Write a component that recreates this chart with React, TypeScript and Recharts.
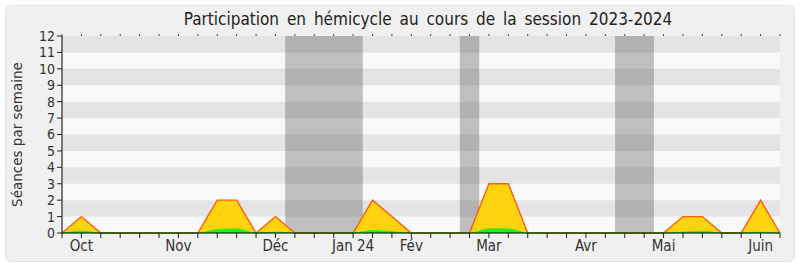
import React from "react";
import {
  ComposedChart, Area, XAxis, YAxis, ReferenceArea,
} from "recharts";

// one point per week, from late September 2023 to June 2024
const weeks = [
  0, 1, 2, 3, 4, 5, 6, 7, 8, 9, 10, 11, 12, 13, 14, 15, 16, 17, 18,
  19, 20, 21, 22, 23, 24, 25, 26, 27, 28, 29, 30, 31, 32, 33, 34, 35, 36, 37,
];

// séances en hémicycle par semaine
const presence = [
  0, 1, 0, 0, 0, 0, 0, 0, 2, 2, 0, 1, 0, 0, 0, 0, 2, 1, 0,
  0, 0, 0, 3, 3, 0, 0, 0, 0, 0, 0, 0, 0, 1, 1, 0, 0, 2, 0,
];

// interventions (thin green layer)
const interventions = [
  0, 0.1, 0, 0, 0, 0, 0, 0, 0.2, 0.25, 0, 0.05, 0, 0, 0, 0, 0.15, 0.08, 0,
  0, 0, 0, 0.25, 0.25, 0, 0, 0, 0, 0, 0, 0, 0, 0.05, 0.1, 0, 0, 0.05, 0,
];

const monthTicks: Record<number, string> = {
  1: "Oct", 6: "Nov", 11: "Déc", 15: "Jan 24", 18: "Fév",
  22: "Mar", 27: "Avr", 31: "Mai", 36: "Juin",
};

// parliamentary breaks (in week units)
const breaks = [
  [11.5, 15.5],
  [20.5, 21.5],
  [28.5, 30.5],
];

const yTicks = [0, 1, 2, 3, 4, 5, 6, 7, 8, 9, 10, 11, 12];
const stripes = [1, 3, 5, 7, 9, 11];

const data = weeks.map((w, i) => ({
  week: w,
  presence: presence[i],
  interventions: interventions[i],
}));

const FONT = "'DejaVu Sans', Verdana, sans-serif";
const NARROW = "'DejaVu Sans Condensed', 'DejaVu Sans', sans-serif";

export default function App() {
  return (
    <div style={{ position: "absolute", left: 0, top: 0, width: 800, height: 267, background: "#fff" }}>
      <div
        style={{
          position: "absolute", left: 5, top: 5, width: 788, height: 255,
          background: "#f0f0f0", border: "1px solid #e2e2e2", borderRadius: 6,
        }}
      />
      <div
        style={{
          position: "absolute", left: 62, width: 732, top: 10, textAlign: "center",
          fontFamily: NARROW, fontSize: 17, wordSpacing: 3, color: "#222",
          lineHeight: "18px", whiteSpace: "nowrap",
        }}
      >
        Participation en hémicycle au cours de la session 2023-2024
      </div>
      <div style={{ position: "absolute", left: 0, top: 0 }}>
        <ComposedChart
          width={800}
          height={267}
          data={data}
          margin={{ top: 35, right: 20, bottom: 0, left: 0 }}
          style={{ fontFamily: FONT }}
        >
          <XAxis
            dataKey="week"
            type="number"
            domain={[0, 37]}
            ticks={weeks}
            interval={0}
            tickFormatter={(v: number) => monthTicks[v] ?? ""}
            tickSize={5}
            tickMargin={2}
            height={34}
            stroke="#000"
            tickLine={{ stroke: "#222" }}
            tick={{ fontSize: 15, fill: "#333", fontFamily: NARROW }}
          />
          <XAxis
            xAxisId="top"
            orientation="top"
            dataKey="week"
            type="number"
            domain={[0, 37]}
            ticks={weeks}
            interval={0}
            tickFormatter={() => ""}
            tickSize={2}
            height={1}
            axisLine={false}
            tickLine={{ stroke: "#444" }}
          />
          <YAxis
            domain={[0, 12]}
            ticks={yTicks}
            interval={0}
            width={62}
            tickSize={5}
            tickMargin={2}
            stroke="#000"
            tickLine={{ stroke: "#222" }}
            tick={{ fontSize: 14, fill: "#333", fontFamily: NARROW }}
            label={{
              value: "Séances par semaine",
              angle: -90,
              position: "insideLeft",
              offset: 17,
              style: { textAnchor: "middle", fontSize: 13.5, fill: "#333" },
            }}
          />
          <ReferenceArea x1={0} x2={37} y1={0} y2={12} fill="#f9f9f9" fillOpacity={1} stroke="none" ifOverflow="hidden" />
          {stripes.map((s) => (
            <ReferenceArea key={s} x1={0} x2={37} y1={s} y2={s + 1} fill="#e4e4e4" fillOpacity={1} stroke="none" />
          ))}
          {breaks.map(([a, b]) => (
            <ReferenceArea key={a} x1={a} x2={b} y1={0} y2={12} fill="#484848" fillOpacity={0.33} stroke="none" />
          ))}
          <Area
            type="linear"
            dataKey="presence"
            fill="#ffd30f"
            fillOpacity={1}
            stroke="#ff5c0a"
            strokeWidth={1.4}
            isAnimationActive={false}
            dot={false}
            activeDot={false}
          />
          <Area
            type="monotone"
            dataKey="interventions"
            fill="#22ee22"
            fillOpacity={1}
            stroke="#22ee22"
            strokeWidth={1}
            isAnimationActive={false}
            dot={false}
            activeDot={false}
          />
        </ComposedChart>
      </div>
    </div>
  );
}
